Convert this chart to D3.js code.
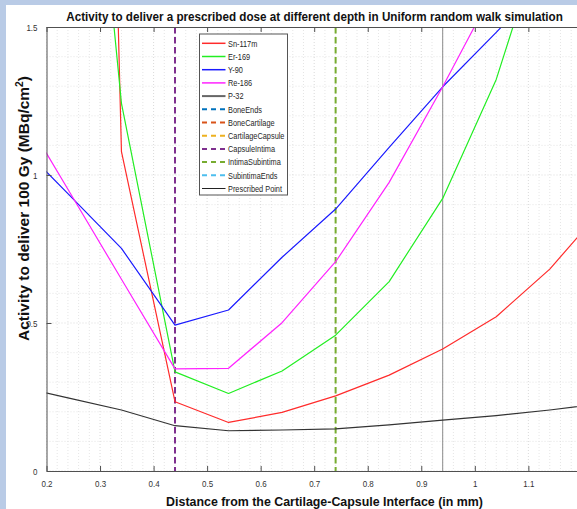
<!DOCTYPE html>
<html>
<head>
<meta charset="utf-8">
<script src="https://cdn.jsdelivr.net/npm/d3@7"></script>
<style>
  html, body { margin: 0; padding: 0; background: #ffffff; }
  svg { display: block; }
  text { font-family: "Liberation Sans Narrow", "Arial Narrow", "Liberation Sans", Arial, sans-serif; }
</style>
</head>
<body>
<svg id="chart" width="577" height="509"></svg>
<script>
// ---------------- DATA ----------------
const titleText = "Activity to deliver a prescribed dose at different depth in Uniform random walk simulation";
const xLabelText = "Distance from the Cartilage-Capsule Interface (in mm)";
const xDepths = [0.14, 0.24, 0.34, 0.44, 0.54, 0.64, 0.74, 0.84, 0.94, 1.04, 1.14, 1.24];
const sn117m = [15.0, 8.2, 1.079, 0.234, 0.164, 0.198, 0.254, 0.324, 0.412, 0.521, 0.682, 0.89];
const er169  = [5.0, 3.1, 1.242, 0.335, 0.262, 0.338, 0.459, 0.640, 0.921, 1.323, 1.89, 2.6];
const y90    = [1.12, 0.937, 0.752, 0.493, 0.544, 0.722, 0.885, 1.093, 1.298, 1.482, 1.67, 1.86];
const re186  = [1.255, 0.952, 0.648, 0.345, 0.347, 0.501, 0.707, 0.975, 1.298, 1.64, 2.0, 2.4];
const p32    = [0.289, 0.247, 0.206, 0.153, 0.136, 0.1385, 0.142, 0.156, 0.172, 0.187, 0.206, 0.228];
const seriesNames  = ["Sn-117m", "Er-169", "Y-90", "Re-186", "P-32"];
const seriesColors = ["#ff2b2b", "#22ee22", "#1a1aff", "#ff22ff", "#333333"];
const boundaryNames  = ["BoneEnds", "BoneCartilage", "CartilageCapsule", "CapsuleIntima", "IntimaSubintima", "SubintimaEnds"];
const boundaryX      = [null, null, null, 0.44, 0.74, null];   // only two fall inside the visible range
const boundaryColors = ["#0072BD", "#D95319", "#EDB120", "#7E2F8E", "#77AC30", "#4DBEEE"];
const prescribedName = "Prescribed Point";
const prescribedX = 0.94;
const xTickValues = [0.2, 0.3, 0.4, 0.5, 0.6, 0.7, 0.8, 0.9, 1.0, 1.1];
const xTickLabels = ["0.2", "0.3", "0.4", "0.5", "0.6", "0.7", "0.8", "0.9", "1", "1.1"];
const yTickValues = [0, 0.5, 1, 1.5];
const yTickLabels = ["0", "0.5", "1", "1.5"];

// ---------------- LAYOUT ----------------
const W = 577, H = 509;
const plotL = 46.5, plotT = 27, plotB = 471;
const pxPerUnit = 535.4;
const svg = d3.select("#chart");
const narrow = 0.84;

function squeeze(sel, f) {
  sel.each(function () {
    const len = this.getComputedTextLength();
    d3.select(this).attr("textLength", len * f).attr("lengthAdjust", "spacingAndGlyphs");
  });
}
// place a text so that its natural width equals targetW, keeping the visual height of baseSize
function fitText(sel, baseSize, targetW, cx, cy) {
  sel.attr("font-size", baseSize);
  const len = sel.node().getComputedTextLength();
  const fs = len > 0 ? baseSize * targetW / len : baseSize;
  sel.attr("font-size", fs)
     .attr("transform", `translate(${cx},${cy}) scale(1,${baseSize / fs})`);
}

svg.append("rect").attr("x", 0).attr("y", 0).attr("width", W).attr("height", H).attr("fill", "#b9cbe6");
svg.append("rect").attr("x", 6).attr("y", 5).attr("width", W - 6).attr("height", H - 5).attr("fill", "#ffffff");

const x = d3.scaleLinear().domain([0.2, 1.3]).range([plotL, plotL + 1.1 * pxPerUnit]);
const y = d3.scaleLinear().domain([0, 1.5]).range([plotB, plotT]);

const plotR = W;
svg.append("defs").append("clipPath").attr("id", "clip")
  .append("rect").attr("x", plotL).attr("y", plotT).attr("width", plotR - plotL).attr("height", plotB - plotT);

const grid = svg.append("g").attr("clip-path", "url(#clip)");
const xMajorAll = d3.range(0.2, 1.3001, 0.1);
const xMinor = d3.range(0.2, 1.3001, 0.02).filter(v => Math.abs(Math.round(v * 10) - v * 10) > 1e-6);
const yMinor = d3.range(0, 1.5001, 0.1).filter(v => Math.abs(Math.round(v * 2) - v * 2) > 1e-6);
grid.selectAll(".xminor").data(xMinor).join("line")
  .attr("x1", d => x(d)).attr("x2", d => x(d)).attr("y1", plotT).attr("y2", plotB)
  .attr("stroke", "#dedede").attr("stroke-width", 0.8).attr("stroke-dasharray", "1,2");
grid.selectAll(".yminor").data(yMinor).join("line")
  .attr("x1", plotL).attr("x2", plotR).attr("y1", d => y(d)).attr("y2", d => y(d))
  .attr("stroke", "#dedede").attr("stroke-width", 0.8).attr("stroke-dasharray", "1,2");
grid.selectAll(".xmajor").data(xMajorAll).join("line")
  .attr("x1", d => x(d)).attr("x2", d => x(d)).attr("y1", plotT).attr("y2", plotB)
  .attr("stroke", "#d0d0d0").attr("stroke-width", 0.8).attr("stroke-dasharray", "1,2");
grid.selectAll(".ymajor").data(yTickValues).join("line")
  .attr("x1", plotL).attr("x2", plotR).attr("y1", d => y(d)).attr("y2", d => y(d))
  .attr("stroke", "#d0d0d0").attr("stroke-width", 0.8).attr("stroke-dasharray", "1,2");

const marks = svg.append("g").attr("clip-path", "url(#clip)");

boundaryNames.forEach((n, i) => {
  if (boundaryX[i] === null) return;
  marks.append("line")
    .attr("x1", x(boundaryX[i])).attr("x2", x(boundaryX[i])).attr("y1", plotT).attr("y2", plotB)
    .attr("stroke", boundaryColors[i]).attr("stroke-width", 2).attr("stroke-dasharray", "6.5,3.5");
});
marks.append("line")
  .attr("x1", x(prescribedX)).attr("x2", x(prescribedX)).attr("y1", plotT).attr("y2", plotB)
  .attr("stroke", "#8c8c8c").attr("stroke-width", 1);

const seriesData = [sn117m, er169, y90, re186, p32];
const line = d3.line().x(d => x(d[0])).y(d => y(d[1]));
seriesData.forEach((vals, i) => {
  marks.append("path")
    .attr("d", line(xDepths.map((d, j) => [d, vals[j]])))
    .attr("fill", "none").attr("stroke", seriesColors[i]).attr("stroke-width", 1.2)
    .attr("stroke-linejoin", "round");
});

const axisColor = "#505050";
const tickFont = 9.5;
const xAxisB = d3.axisBottom(x).tickValues(xTickValues).tickSizeInner(-5).tickSizeOuter(0)
  .tickFormat((d, i) => xTickLabels[i]).tickPadding(9);
const gxB = svg.append("g").attr("transform", `translate(0,${plotB})`).call(xAxisB);
const xAxisT = d3.axisTop(x).tickValues(xTickValues).tickSizeInner(-5).tickSizeOuter(0).tickFormat("");
const gxT = svg.append("g").attr("transform", `translate(0,${plotT})`).call(xAxisT);
const yAxisL = d3.axisLeft(y).tickValues(yTickValues).tickSizeInner(-5).tickSizeOuter(0)
  .tickFormat((d, i) => yTickLabels[i]).tickPadding(9);
const gyL = svg.append("g").attr("transform", `translate(${plotL},0)`).call(yAxisL);
[gxB, gxT, gyL].forEach(g => {
  g.select(".domain").attr("stroke", axisColor).attr("stroke-width", 1);
  g.selectAll(".tick line").attr("stroke", axisColor).attr("stroke-width", 1);
  g.selectAll(".tick text").attr("fill", "#333333").attr("font-size", tickFont)
    .style("font-family", '"Liberation Sans Narrow", "Arial Narrow", "Liberation Sans", sans-serif');
});
squeeze(gxB.selectAll(".tick text"), narrow);
squeeze(gyL.selectAll(".tick text"), narrow);

// title
const title = svg.append("text").attr("text-anchor", "middle")
  .attr("font-weight", "bold").attr("fill", "#111").text(titleText);
fitText(title, 13.5, 497, 314.5, 21);
// x label
const xl = svg.append("text").attr("text-anchor", "middle")
  .attr("font-weight", "bold").attr("fill", "#111").text(xLabelText);
fitText(xl, 13.5, 317, 324.5, 505.5);
// y label
const yl = svg.append("text").attr("transform", "translate(28.5,208.5) rotate(-90)")
  .attr("text-anchor", "middle").attr("font-size", 13.5).attr("font-weight", "bold").attr("fill", "#111")
  .style("font-family", '"Liberation Sans", Arial, sans-serif');
yl.append("tspan").text("Activity to deliver 100 Gy (MBq/cm");
yl.append("tspan").attr("dy", -5).attr("font-size", 9).text("2");
yl.append("tspan").attr("dy", 5).text(")");
const ylLen = yl.node().getComputedTextLength();
if (ylLen > 0) {
  const fs = Math.min(15.5, 13.5 * 323 / ylLen);
  yl.attr("font-size", fs);
  yl.selectAll("tspan").filter((d, i) => i === 1).attr("font-size", fs * 0.66).attr("dy", -5.5);
  yl.selectAll("tspan").filter((d, i) => i === 2).attr("dy", 5.5);
}

// legend
const legItems = [];
seriesNames.forEach((n, i) => legItems.push({ name: n, color: i === 4 ? "#666666" : seriesColors[i], dash: null, w: i === 4 ? 2 : 1.5 }));
boundaryNames.forEach((n, i) => legItems.push({ name: n, color: boundaryColors[i], dash: "5,4", w: 2 }));
legItems.push({ name: prescribedName, color: "#222222", dash: null, w: 1 });

const legX = 199.5, legY = 34, legW = 88, rowH = 13.2;
const leg = svg.append("g");
leg.append("rect").attr("x", legX).attr("y", legY).attr("width", legW).attr("height", 161)
  .attr("fill", "#ffffff").attr("stroke", "#555555").attr("stroke-width", 1);
legItems.forEach((it, i) => {
  const cy = legY + 9.3 + i * rowH;
  leg.append("line").attr("x1", legX + 2.5).attr("x2", legX + 26).attr("y1", cy).attr("y2", cy)
    .attr("stroke", it.color).attr("stroke-width", it.w).attr("stroke-dasharray", it.dash);
  leg.append("text").attr("class", "legtext").attr("x", legX + 28.5).attr("y", cy).attr("dy", "0.35em")
    .attr("font-size", 9.5).attr("fill", "#262626").text(it.name);
});
let ppLen = 0;
leg.selectAll(".legtext").each(function () { if (this.textContent === prescribedName) ppLen = this.getComputedTextLength(); });
const legF = ppLen > 0 ? Math.min(1, 54 / ppLen) : 1;
squeeze(leg.selectAll(".legtext"), legF);
</script>
</body>
</html>
